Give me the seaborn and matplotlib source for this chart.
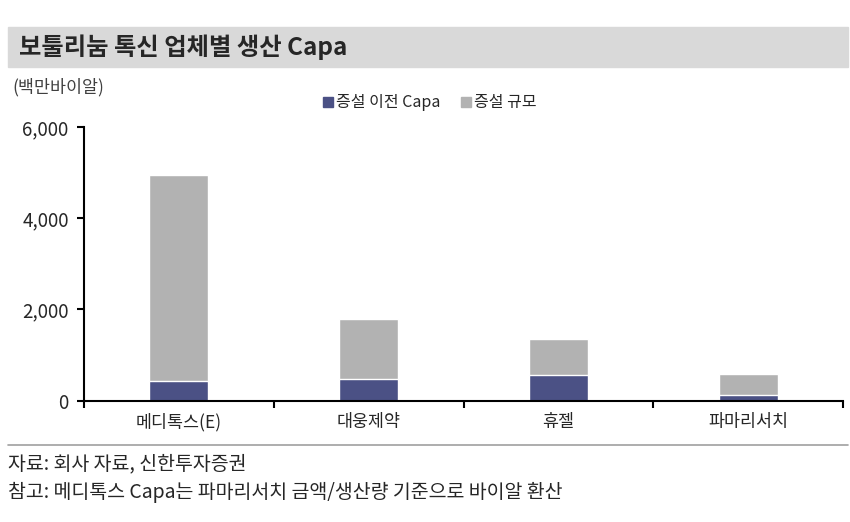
import seaborn as sns
import matplotlib.pyplot as plt
import pandas as pd
from matplotlib.patches import Rectangle
from matplotlib.lines import Line2D

companies = ['메디톡스(E)', '대웅제약', '휴젤', '파마리서치']
capa_before = [440, 480, 555, 130]
capa_added = [4500, 1310, 800, 460]
yticks = [0, 2000, 4000, 6000]

blue = '#4B5185'
gray = '#B2B2B2'

df = pd.DataFrame({'company': companies,
                   'before': capa_before,
                   'added': capa_added})
df['total'] = df['before'] + df['added']

sns.set_style('white')
plt.rcParams['font.family'] = ['Noto Sans CJK KR', 'DejaVu Sans']

fig = plt.figure(figsize=(8.5, 5.22), dpi=100)
ax = fig.add_axes([0.0988, 0.2324, 0.893, 0.5243])

# stacked bars: total in gray, base capa in blue on top of it
sns.barplot(data=df, x='company', y='total', color=gray, width=0.31,
            saturation=1, ax=ax)
sns.barplot(data=df, x='company', y='before', color=blue, width=0.31,
            saturation=1, ax=ax)

ax.set_xlim(-0.5, len(companies) - 0.5)
ax.set_ylim(0, 6000)
ax.set_yticks(yticks)
ax.set_yticklabels([f'{v:,}' for v in yticks], fontsize=13.5)
ax.set_xlabel('')
ax.set_ylabel('')
ax.tick_params(axis='x', length=0, labelsize=12.5, pad=9)
ax.set_xticks([i - 0.5 for i in range(len(companies) + 1)], minor=True)
ax.tick_params(axis='x', which='minor', length=5, width=1.5, color='black',
               direction='out')
ax.tick_params(axis='y', length=5, width=1.5, color='black',
               direction='out', pad=6)
ax.yaxis.set_ticks_position('left')
ax.xaxis.set_ticks_position('bottom')
for side in ['top', 'right']:
    ax.spines[side].set_visible(False)
for side in ['left', 'bottom']:
    ax.spines[side].set_color('black')
    ax.spines[side].set_linewidth(1.5)

# title band
fig.patches.append(Rectangle((0.009, 0.872), 0.989, 0.077,
                             transform=fig.transFigure,
                             color='#D9D9D9', zorder=0))
fig.text(0.022, 0.910, '보툴리눔 톡신 업체별 생산 Capa', fontsize=17.5,
         fontweight='bold', va='center', ha='left')
fig.text(0.014, 0.832, '(백만바이알)', fontsize=12.5, color='#404040',
         va='center', ha='left')

handles = [Line2D([], [], marker='s', linestyle='none', color=blue,
                  markersize=7),
           Line2D([], [], marker='s', linestyle='none', color=gray,
                  markersize=7)]
fig.legend(handles, ['증설 이전 Capa', '증설 규모'], loc='center',
           bbox_to_anchor=(0.505, 0.803), ncol=2, frameon=False,
           fontsize=11.5, handletextpad=0.1, columnspacing=1.2,
           handlelength=0.8)

# footer
fig.add_artist(Line2D([0.009, 0.998], [0.147, 0.147],
                      transform=fig.transFigure, color='#A0A0A0', lw=1.2))
fig.text(0.009, 0.112, '자료: 회사 자료, 신한투자증권', fontsize=14,
         va='center', ha='left')
fig.text(0.009, 0.056, '참고: 메디톡스 Capa는 파마리서치 금액/생산량 기준으로 바이알 환산',
         fontsize=14, va='center', ha='left')

fig.savefig('out.png', dpi=100)
